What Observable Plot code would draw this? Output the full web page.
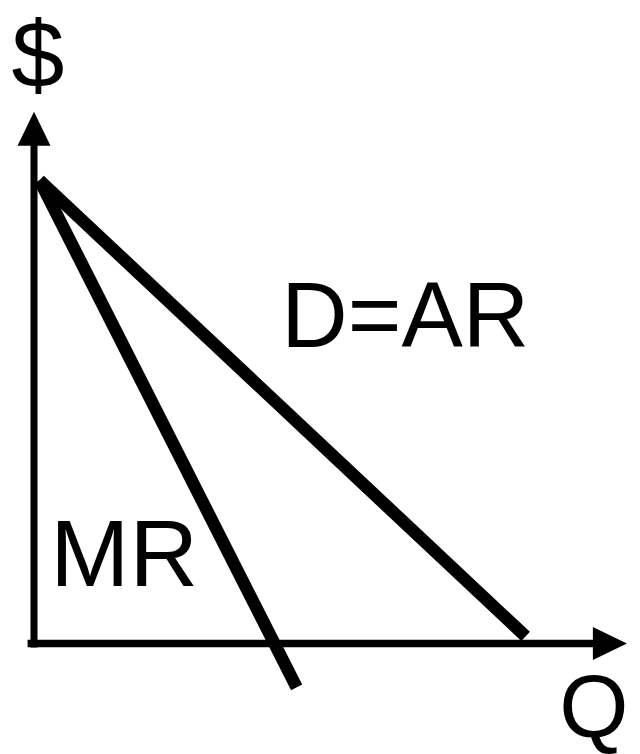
<!DOCTYPE html>
<html>
<head>
<meta charset="utf-8">
<script src="https://cdn.jsdelivr.net/npm/d3@7"></script>
<script src="https://cdn.jsdelivr.net/npm/@observablehq/plot@0.6"></script>
<style>
  html, body { margin: 0; padding: 0; background: #fff; }
  #chart svg { display: block; }
</style>
</head>
<body>
<div id="chart"></div>
<script>
// Demand (D = AR) curve: quantity and price
const demandQ = [0.11, 9.94];
const demandP = [10.47, 0.16];
// Marginal revenue curve
const mrQ = [0.11, 5.31];
const mrP = [10.47, -0.99];
// Axis extents (data units)
const qAxis = [-0.13, 11.32];
const pAxis = [-0.09, 11.27];
// Labels
const labels = ["$", "Q", "D=AR", "MR"];

const demand = demandQ.map((q, i) => ({q, p: demandP[i]}));
const mr = mrQ.map((q, i) => ({q, p: mrP[i]}));
const font = "'Liberation Sans', Arial, Helvetica, sans-serif";

const chart = Plot.plot({
  width: 640,
  height: 754,
  marginLeft: 33.5,
  marginRight: 13,
  marginTop: 112,
  marginBottom: 111,
  x: {domain: [0, 12], axis: null},
  y: {domain: [0, 12], axis: null},
  style: {background: "#fff", fontFamily: font},
  marks: [
    // axes
    Plot.line([{q: qAxis[0], p: 0}, {q: qAxis[1], p: 0}], {x: "q", y: "p", stroke: "black", strokeWidth: 7.5, strokeLinecap: "butt"}),
    Plot.line([{q: 0, p: pAxis[0]}, {q: 0, p: pAxis[1]}], {x: "q", y: "p", stroke: "black", strokeWidth: 7, strokeLinecap: "butt"}),
    // arrowheads
    Plot.vector([{q: qAxis[1] - 0.02, p: 0}], {x: "q", y: "p", rotate: 90, length: 34, r: 16.5, shape: "spike", anchor: "start", fill: "black", stroke: "none"}),
    Plot.vector([{q: 0, p: pAxis[1] - 0.02}], {x: "q", y: "p", rotate: 0, length: 34, r: 16.5, shape: "spike", anchor: "start", fill: "black", stroke: "none"}),
    // curves
    Plot.line(demand, {x: "q", y: "p", stroke: "black", strokeWidth: 12.5, strokeLinecap: "butt"}),
    Plot.line(mr, {x: "q", y: "p", stroke: "black", strokeWidth: 12.5, strokeLinecap: "butt"}),
    // labels
    Plot.text([labels[0]], {x: 0.08, y: 12.57, text: d => d, textAnchor: "middle", lineAnchor: "bottom", fontSize: 95, fill: "black", fontFamily: font}),
    Plot.text([labels[1]], {x: 10.62, y: -2.12, text: d => d, textAnchor: "start", lineAnchor: "bottom", fontSize: 89, fill: "black", fontFamily: font}),
    Plot.text([labels[2]], {x: 5.0, y: 6.71, text: d => d, textAnchor: "start", lineAnchor: "bottom", fontSize: 92, fill: "black", fontFamily: font}),
    Plot.text([labels[3]], {x: 0.33, y: 1.29, text: d => d, textAnchor: "start", lineAnchor: "bottom", fontSize: 95, fill: "black", fontFamily: font})
  ]
});
document.getElementById("chart").appendChild(chart);
</script>
</body>
</html>
